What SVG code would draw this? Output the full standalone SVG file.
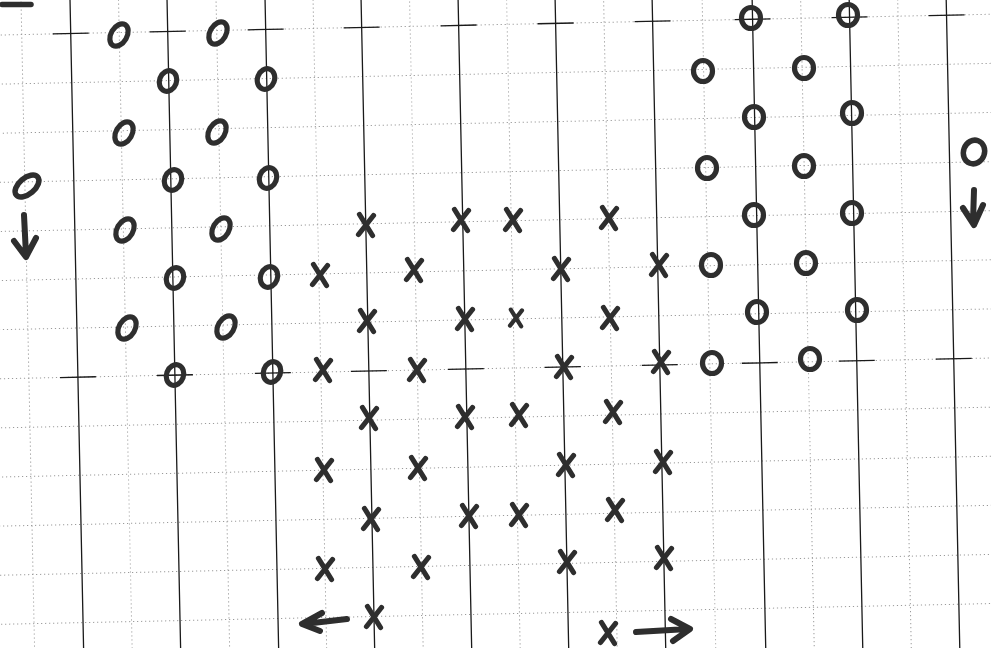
<svg xmlns="http://www.w3.org/2000/svg" width="991" height="648" viewBox="0 0 991 648">
<style>
.dot{stroke:#9a9a9a;stroke-width:1;stroke-dasharray:1.2 2.8;fill:none}
.solid{stroke:#1a1a1a;stroke-width:1.3;fill:none}
.tick{stroke:#1a1a1a;stroke-width:1.3;fill:none}
.o{stroke:#2e2e2e;stroke-width:5.2;fill:none}
.x{stroke:#2e2e2e;stroke-width:5.2;fill:none;stroke-linecap:round}
.ar{stroke:#2e2e2e;stroke-width:6;fill:none;stroke-linecap:round;stroke-linejoin:round}
</style>
<defs>
<ellipse id="oL" rx="8" ry="12" transform="rotate(30)"/>
<ellipse id="oS" rx="8.5" ry="10.5" transform="rotate(20)"/>
<ellipse id="oR" rx="9.5" ry="10.5"/>
<path id="xm" d="M-6.5,-10.5 L6.5,10.5 M7.5,-9.5 L-7.5,9.5"/>
</defs>
<rect width="991" height="648" fill="#fff"/>
<g id="grid" transform="rotate(-1.2)">
<path class="dot" d="M21,-30V690M118.5,-30V690M216,-30V690M313,-30V690M409.5,-30V690M506.5,-30V690M603.5,-30V690M702,-30V690M800.5,-30V690M897.5,-30V690M995,-30V690"/>
<path class="dot" d="M-40,-14.1H1040M-40,35H1040M-40,84.1H1040M-40,133.2H1040M-40,182.3H1040M-40,231.4H1040M-40,280.5H1040M-40,329.6H1040M-40,378.7H1040M-40,427.8H1040M-40,476.9H1040M-40,526H1040M-40,575.1H1040M-40,624.2H1040M-40,673.3H1040"/>
<path class="solid" d="M70,-30V690M167,-30V690M265,-30V690M361,-30V690M458,-30V690M555,-30V690M652,-30V690M752,-30V690M849,-30V690M946,-30V690"/>
<path class="tick" d="M52,35H88M149,35H185M247,35H283M343,35H379M440,35H476M537,35H573M634,35H670M734,35H770M831,35H867M928,35H964"/>
<path class="tick" d="M52,378.7H88M149,378.7H185M247,378.7H283M343,378.7H379M440,378.7H476M537,378.7H573M634,378.7H670M734,378.7H770M831,378.7H867M928,378.7H964"/>
</g>
<path id="dash" d="M2,4.5H31" stroke="#2e2e2e" stroke-width="5.5" stroke-linecap="round"/>
<g id="o-marks" class="o">
<use href="#oL" transform="translate(119,35)"/>
<use href="#oL" transform="translate(218,33)"/>
<use href="#oL" transform="translate(124,133)"/>
<use href="#oL" transform="translate(217,132)"/>
<use href="#oL" transform="translate(125,230)"/>
<use href="#oL" transform="translate(221,229)"/>
<use href="#oL" transform="translate(127,328)"/>
<use href="#oL" transform="translate(226,327)"/>
<use href="#oS" transform="translate(168,81)"/>
<use href="#oS" transform="translate(266,79)"/>
<use href="#oS" transform="translate(173,180)"/>
<use href="#oS" transform="translate(268,178)"/>
<use href="#oS" transform="translate(175,278)"/>
<use href="#oS" transform="translate(269,277)"/>
<use href="#oS" transform="translate(175,375)"/>
<use href="#oS" transform="translate(272,372)"/>
<use href="#oR" transform="translate(751,18)"/>
<use href="#oR" transform="translate(848,15)"/>
<use href="#oR" transform="translate(703,71)"/>
<use href="#oR" transform="translate(804,68)"/>
<use href="#oR" transform="translate(754,117)"/>
<use href="#oR" transform="translate(852,113)"/>
<use href="#oR" transform="translate(707,168)"/>
<use href="#oR" transform="translate(804,166)"/>
<use href="#oR" transform="translate(754,215)"/>
<use href="#oR" transform="translate(852,213)"/>
<use href="#oR" transform="translate(711,265)"/>
<use href="#oR" transform="translate(806,263)"/>
<use href="#oR" transform="translate(757,312)"/>
<use href="#oR" transform="translate(857,310)"/>
<use href="#oR" transform="translate(712,363)"/>
<use href="#oR" transform="translate(810,359)"/>
</g>
<g id="x-marks" class="x">
<use href="#xm" transform="translate(366,225)"/>
<use href="#xm" transform="translate(461,220)"/>
<use href="#xm" transform="translate(513,220)"/>
<use href="#xm" transform="translate(609,218)"/>
<use href="#xm" transform="translate(320,275)"/>
<use href="#xm" transform="translate(414,270)"/>
<use href="#xm" transform="translate(561,269)"/>
<use href="#xm" transform="translate(659,265)"/>
<use href="#xm" transform="translate(367,321)"/>
<use href="#xm" transform="translate(465,319)"/>
<use href="#xm" transform="translate(516,318) scale(0.8)"/>
<use href="#xm" transform="translate(610,318)"/>
<use href="#xm" transform="translate(323,370)"/>
<use href="#xm" transform="translate(417,370)"/>
<use href="#xm" transform="translate(564,367)"/>
<use href="#xm" transform="translate(661,362)"/>
<use href="#xm" transform="translate(369,418)"/>
<use href="#xm" transform="translate(465,417)"/>
<use href="#xm" transform="translate(519,415)"/>
<use href="#xm" transform="translate(613,412)"/>
<use href="#xm" transform="translate(324,470)"/>
<use href="#xm" transform="translate(418,468)"/>
<use href="#xm" transform="translate(566,465)"/>
<use href="#xm" transform="translate(663,462)"/>
<use href="#xm" transform="translate(371,519)"/>
<use href="#xm" transform="translate(469,516)"/>
<use href="#xm" transform="translate(519,515)"/>
<use href="#xm" transform="translate(615,510)"/>
<use href="#xm" transform="translate(325,569)"/>
<use href="#xm" transform="translate(421,567)"/>
<use href="#xm" transform="translate(567,562)"/>
<use href="#xm" transform="translate(664,558)"/>
<use href="#xm" transform="translate(374,617)"/>
</g>
<g id="legend-o-left">
<ellipse cx="27" cy="186" rx="8" ry="14" transform="rotate(50 27 186)" class="o" style="stroke-width:5.5"/>
<path class="ar" d="M24,215L26,255M14,241L26,257L36,238"/>
</g>
<g id="legend-o-right">
<ellipse cx="974" cy="152" rx="10.5" ry="12" transform="rotate(20 974 152)" class="o" style="stroke-width:5.5"/>
<path class="ar" d="M974,190L973,222M963,208L974,225L983,205"/>
</g>
<g id="legend-x">
<path class="ar" d="M347,619L304,624M322,613L302,624L320,631"/>
<use href="#xm" class="x" transform="translate(608,633)"/>
<path class="ar" d="M636,632L688,629M671,619L690,629L673,641"/>
</g>
</svg>
